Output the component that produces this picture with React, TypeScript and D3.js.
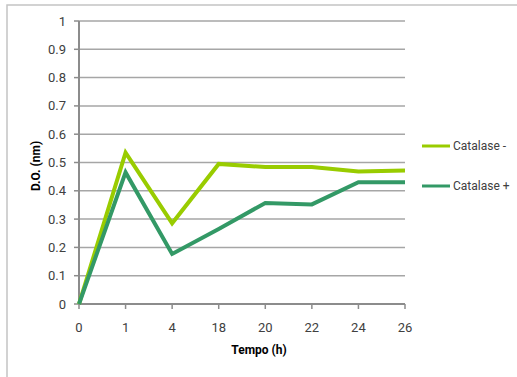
import React from "react";
import * as d3 from "d3";

const timepoints = ["0", "1", "4", "18", "20", "22", "24", "26"];
const catalaseNeg = [0, 0.535, 0.285, 0.495, 0.484, 0.484, 0.468, 0.472];
const catalasePos = [0, 0.465, 0.177, 0.265, 0.357, 0.352, 0.43, 0.43];
const yTicks = [0, 0.1, 0.2, 0.3, 0.4, 0.5, 0.6, 0.7, 0.8, 0.9, 1];

const series = [
  { name: "Catalase -", values: catalaseNeg, color: "#99cc00" },
  { name: "Catalase +", values: catalasePos, color: "#339966" },
];

const W = 517;
const H = 377;
const left = 79;
const right = 405;
const top = 21;
const bottom = 304;
const font = "Roboto, 'Liberation Sans', sans-serif";

export default function App() {
  const x = d3.scalePoint<string>().domain(timepoints).range([left, right]).padding(0);
  const y = d3.scaleLinear().domain([0, 1]).range([bottom, top]);
  const line = d3
    .line<number>()
    .x((_, i) => x(timepoints[i]) as number)
    .y((d) => y(d));

  return (
    <svg
      width={W}
      height={H}
      style={{ position: "absolute", left: 0, top: 0, background: "#fff" }}
      fontFamily={font}
    >
      <rect x={7} y={5} width={W} height={H} fill="#fff" stroke="#c4c4c4" strokeWidth={1.5} />
      {yTicks.map((t) => (
        <g key={t}>
          {t > 0 && (
            <line x1={left} x2={right} y1={y(t)} y2={y(t)} stroke="#a6a6a6" strokeWidth={1.5} />
          )}
          <line x1={left - 5} x2={left} y1={y(t)} y2={y(t)} stroke="#8c8c8c" strokeWidth={1.5} />
          <text x={66} y={y(t)} dy="0.35em" textAnchor="end" fontSize={13} fill="#404040">
            {t}
          </text>
        </g>
      ))}
      {timepoints.map((c) => (
        <g key={c}>
          <line x1={x(c)} x2={x(c)} y1={bottom} y2={bottom + 5} stroke="#8c8c8c" strokeWidth={1.5} />
          <text x={x(c)} y={327} dy="0.35em" textAnchor="middle" fontSize={13} fill="#404040">
            {c}
          </text>
        </g>
      ))}
      <line x1={left} x2={left} y1={top} y2={bottom} stroke="#8c8c8c" strokeWidth={2} />
      <line x1={left} x2={right} y1={bottom} y2={bottom} stroke="#8c8c8c" strokeWidth={2} />
      {series.map((s) => (
        <path
          key={s.name}
          d={line(s.values) as string}
          fill="none"
          stroke={s.color}
          strokeWidth={4}
          strokeLinejoin="miter"
        />
      ))}
      {series.map((s, i) => (
        <g key={s.name} transform={`translate(422, ${146 + i * 40})`}>
          <line x1={0} x2={28} y1={0} y2={0} stroke={s.color} strokeWidth={3} />
          <text x={31} y={0} dy="0.35em" fontSize={12} fill="#404040">
            {s.name}
          </text>
        </g>
      ))}
      <text
        transform="translate(36, 166) rotate(-90)"
        textAnchor="middle"
        dy="0.35em"
        fontSize={12}
        fontWeight="bold"
        fill="#000"
      >
        D.O. (nm)
      </text>
      <text x={259} y={350} dy="0.35em" textAnchor="middle" fontSize={12} fontWeight="bold" fill="#000">
        Tempo (h)
      </text>
    </svg>
  );
}
